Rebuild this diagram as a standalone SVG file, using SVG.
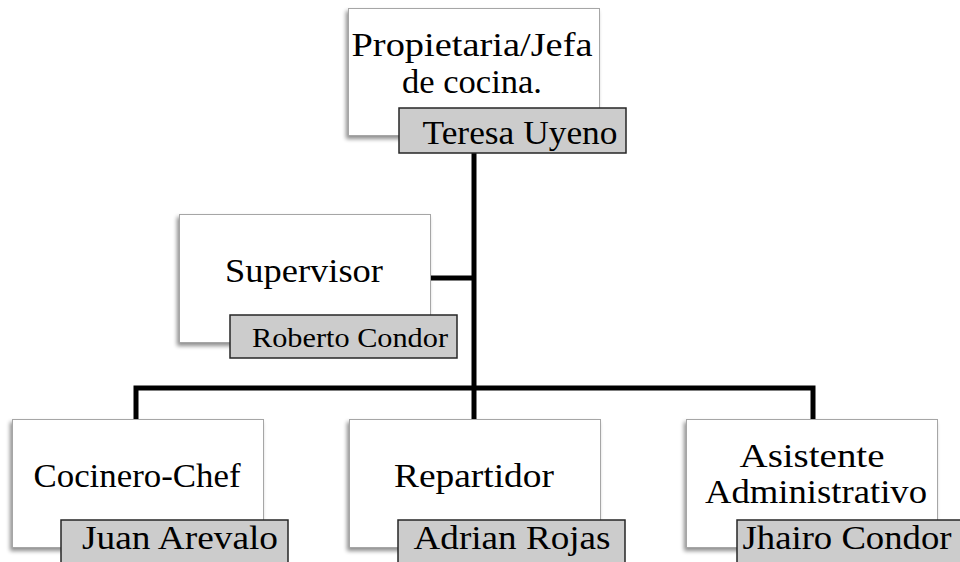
<svg xmlns="http://www.w3.org/2000/svg" width="960" height="562" viewBox="0 0 960 562">
  <defs>
    <filter id="shadow" x="-10%" y="-10%" width="125%" height="130%">
      <feGaussianBlur in="SourceAlpha" stdDeviation="2"/>
      <feOffset dx="-2" dy="3" result="b"/>
      <feComponentTransfer><feFuncA type="linear" slope="0.45"/></feComponentTransfer>
      <feMerge><feMergeNode/><feMergeNode in="SourceGraphic"/></feMerge>
    </filter>
  </defs>
  <style>
    .card { fill: #ffffff; stroke: #a6a6a6; stroke-width: 1; }
    .tag { fill: #cccccc; stroke: #262626; stroke-width: 1.5; }
    .t { font-family: "Liberation Serif", "DejaVu Serif", serif; fill: #000000; text-anchor: middle; }
    .role { font-size: 33px; }
    .name { font-size: 33px; }
    .small { font-size: 27px; }
    .link { fill: none; stroke: #000000; stroke-width: 5; stroke-linecap: butt; stroke-linejoin: miter; }
  </style>
  <rect width="960" height="562" fill="#ffffff"/>

  <!-- reporting lines -->
  <g id="connectors">
    <path class="link" d="M474 153 V388"/>
    <path class="link" d="M431 278 H474"/>
    <path class="link" d="M136 419 V388 H813 V419"/>
    <path class="link" d="M474 388 V419"/>
  </g>

  <g id="owner">
    <rect class="card" x="348.5" y="8.5" width="251" height="127" filter="url(#shadow)"/>
    <text class="t role" x="472" y="56" textLength="241" lengthAdjust="spacingAndGlyphs">Propietaria/Jefa</text>
    <text class="t role" x="472" y="93" textLength="140" lengthAdjust="spacingAndGlyphs">de cocina.</text>
    <rect class="tag" x="399" y="108" width="227" height="45"/>
    <text class="t name" x="520" y="144" textLength="195" lengthAdjust="spacingAndGlyphs">Teresa Uyeno</text>
  </g>

  <g id="supervisor">
    <rect class="card" x="179.5" y="214.5" width="251" height="128" filter="url(#shadow)"/>
    <text class="t role" x="304" y="282" textLength="158" lengthAdjust="spacingAndGlyphs">Supervisor</text>
    <rect class="tag" x="230" y="315" width="227" height="43"/>
    <text class="t small" x="350" y="347" textLength="196" lengthAdjust="spacingAndGlyphs">Roberto Condor</text>
  </g>

  <g id="chef">
    <rect class="card" x="12.5" y="419.5" width="251" height="128" filter="url(#shadow)"/>
    <text class="t role" x="137" y="487" textLength="207" lengthAdjust="spacingAndGlyphs">Cocinero-Chef</text>
    <rect class="tag" x="61" y="520" width="227" height="48"/>
    <text class="t name" x="180" y="549" textLength="196" lengthAdjust="spacingAndGlyphs">Juan Arevalo</text>
  </g>

  <g id="delivery">
    <rect class="card" x="349.5" y="419.5" width="251" height="128" filter="url(#shadow)"/>
    <text class="t role" x="474" y="487" textLength="160" lengthAdjust="spacingAndGlyphs">Repartidor</text>
    <rect class="tag" x="398" y="520" width="227" height="48"/>
    <text class="t name" x="512" y="549" textLength="197" lengthAdjust="spacingAndGlyphs">Adrian Rojas</text>
  </g>

  <g id="assistant">
    <rect class="card" x="686.5" y="419.5" width="251" height="128" filter="url(#shadow)"/>
    <text class="t role" x="812" y="467" textLength="145" lengthAdjust="spacingAndGlyphs">Asistente</text>
    <text class="t role" x="816" y="503" textLength="222" lengthAdjust="spacingAndGlyphs">Administrativo</text>
    <rect class="tag" x="737" y="520" width="230" height="48"/>
    <text class="t name" x="847" y="549" textLength="209" lengthAdjust="spacingAndGlyphs">Jhairo Condor</text>
  </g>
</svg>
